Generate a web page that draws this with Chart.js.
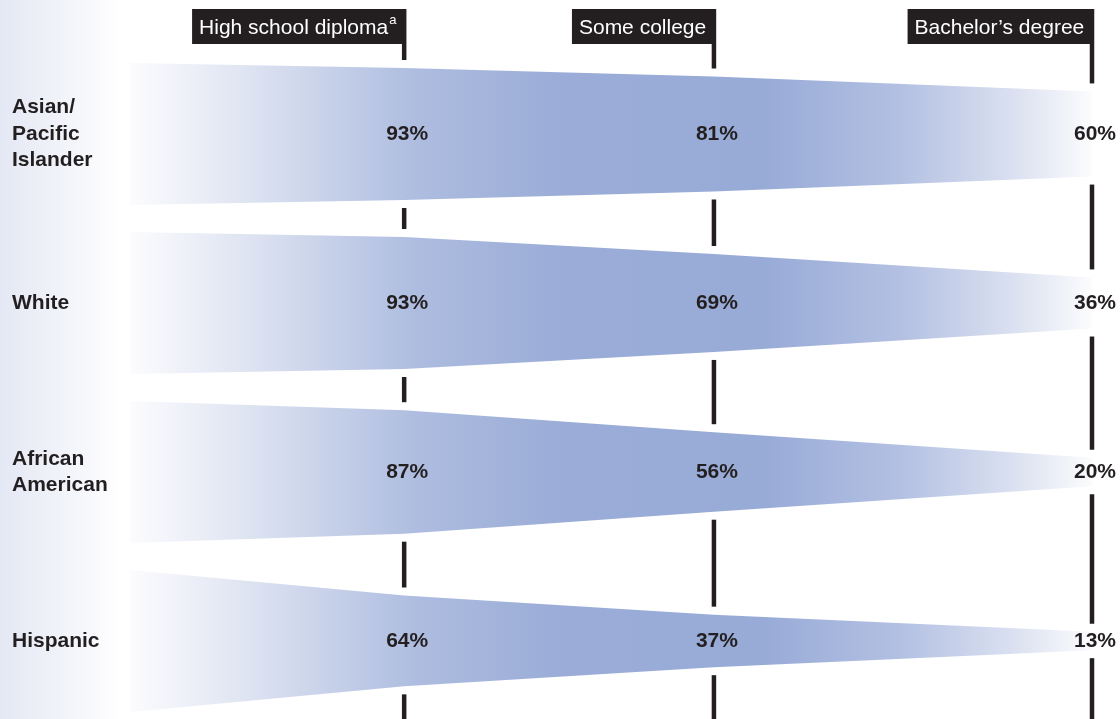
<!DOCTYPE html>
<html>
<head>
<meta charset="utf-8">
<script src="https://cdn.jsdelivr.net/npm/chart.js@4/dist/chart.umd.min.js"></script>
<style>
  html, body { margin: 0; padding: 0; background: #ffffff; }
  #wrap { width: 1120px; height: 719px; position: relative; }
</style>
</head>
<body>
<div id="wrap"><canvas id="chart"></canvas></div>
<script>
// Share of each group reaching each level of education (%)
const groups = ['Asian/Pacific Islander', 'White', 'African American', 'Hispanic'];
const groupLines = [['Asian/', 'Pacific', 'Islander'], ['White'], ['African', 'American'], ['Hispanic']];
const stages = ['High school diploma', 'Some college', 'Bachelor\u2019s degree'];
const hsPct = [93, 93, 87, 64];
const collegePct = [81, 69, 56, 37];
const bachelorPct = [60, 36, 20, 13];

// layout: where each stage sits along the band (0 = band start, 1 = band end)
const stageX = [0, 0.285, 0.607, 1];
const HALF = 0.42;      // half band height at 100%, in row units
const INK = '#231f20';
const FONT = "'Liberation Sans', Arial, Helvetica, sans-serif";

function pctsFor(i) {
    return [100, hsPct[i], collegePct[i], bachelorPct[i]];
}

function bandGradient(context) {
    const chart = context.chart;
    const area = chart.chartArea;
    if (!area) return '#98aad6';
    const g = chart.ctx.createLinearGradient(area.left, 0, area.right, 0);
    g.addColorStop(0, '#fcfcfe');
    g.addColorStop(0.12, '#dfe4f2');
    g.addColorStop(0.3, '#adbcdf');
    g.addColorStop(0.45, '#9aacd7');
    g.addColorStop(0.66, '#98abd7');
    g.addColorStop(0.8, '#b3c0e2');
    g.addColorStop(0.92, '#dbe1f1');
    g.addColorStop(1, '#fcfcfe');
    return g;
}

const datasets = [];
groups.forEach((g, i) => {
    const p = pctsFor(i);
    datasets.push({
        label: g + ' top',
        data: p.map((v, k) => ({ x: stageX[k], y: i - v / 100 * HALF })),
        borderWidth: 0,
        pointRadius: 0,
        tension: 0,
        fill: false
    });
    datasets.push({
        label: g,
        data: p.map((v, k) => ({ x: stageX[k], y: i + v / 100 * HALF })),
        borderWidth: 0,
        pointRadius: 0,
        tension: 0,
        fill: '-1',
        backgroundColor: bandGradient
    });
});

// left tinted strip behind the group names
const stripPlugin = {
    id: 'strip',
    beforeDraw(chart) {
        const ctx = chart.ctx;
        const w = chart.chartArea.left - 8;
        ctx.save();
        ctx.fillStyle = '#ffffff';
        ctx.fillRect(0, 0, chart.width, chart.height);
        const g = ctx.createLinearGradient(0, 0, w, 0);
        g.addColorStop(0, '#e4e8f4');
        g.addColorStop(0.85, '#fbfbfd');
        g.addColorStop(1, '#ffffff');
        ctx.fillStyle = g;
        ctx.fillRect(0, 0, w, chart.height);
        ctx.restore();
    }
};

// stage lines, header boxes, percentages and group names
const annotatePlugin = {
    id: 'annotate',
    afterDatasetsDraw(chart) {
        const ctx = chart.ctx;
        const xs = chart.scales.x;
        const ys = chart.scales.y;
        const boxTop = 9, boxBottom = 44, gap = 8, lw = 4.5;
        ctx.save();

        stages.forEach((s, k) => {
            const sx = xs.getPixelForValue(stageX[k + 1]);
            // vertical line broken around every band
            ctx.strokeStyle = INK;
            ctx.lineWidth = lw;
            let y0 = boxBottom;
            groups.forEach((g, i) => {
                const v = pctsFor(i)[k + 1];
                const top = ys.getPixelForValue(i - v / 100 * HALF) - gap;
                const bot = ys.getPixelForValue(i + v / 100 * HALF) + gap;
                if (top > y0) {
                    ctx.beginPath();
                    ctx.moveTo(sx, y0);
                    ctx.lineTo(sx, top);
                    ctx.stroke();
                }
                y0 = bot;
            });
            ctx.beginPath();
            ctx.moveTo(sx, y0);
            ctx.lineTo(sx, chart.height);
            ctx.stroke();

            // header box
            ctx.font = '21px ' + FONT;
            let tw = ctx.measureText(s).width;
            let supW = 0;
            if (k === 0) {
                ctx.font = '13px ' + FONT;
                supW = ctx.measureText('a').width + 1;
            }
            const right = sx + lw / 2;
            const left = right - tw - supW - 17;
            ctx.fillStyle = INK;
            ctx.fillRect(left, boxTop, right - left, boxBottom - boxTop);
            ctx.fillStyle = '#ffffff';
            ctx.textBaseline = 'middle';
            ctx.textAlign = 'left';
            ctx.font = '21px ' + FONT;
            ctx.fillText(s, left + 7, 28);
            if (k === 0) {
                ctx.font = '13px ' + FONT;
                ctx.fillText('a', left + 7 + tw + 1, 20);
            }

            // percentages
            ctx.fillStyle = INK;
            ctx.textAlign = 'center';
            ctx.font = 'bold 21px ' + FONT;
            groups.forEach((g, i) => {
                const v = pctsFor(i)[k + 1];
                ctx.fillText(v + '%', sx + 3, ys.getPixelForValue(i));
            });
        });

        // group names
        ctx.fillStyle = INK;
        ctx.textAlign = 'left';
        ctx.textBaseline = 'middle';
        ctx.font = 'bold 21px ' + FONT;
        const lh = 26.5;
        groupLines.forEach((lines, i) => {
            const cy = ys.getPixelForValue(i);
            lines.forEach((t, j) => {
                ctx.fillText(t, 12, cy + (j - (lines.length - 1) / 2) * lh);
            });
        });
        ctx.restore();
    }
};

new Chart(document.getElementById('chart'), {
    type: 'line',
    data: { datasets: datasets },
    options: {
        responsive: true,
        maintainAspectRatio: false,
        animation: false,
        layout: { padding: { left: 130, right: 28, top: 0, bottom: 0 } },
        plugins: {
            legend: { display: false },
            tooltip: { enabled: false }
        },
        scales: {
            x: { type: 'linear', min: 0, max: 1, display: false },
            y: { type: 'linear', reverse: true, min: -0.793, max: 3.462, display: false }
        }
    },
    plugins: [stripPlugin, annotatePlugin]
});
</script>
</body>
</html>
